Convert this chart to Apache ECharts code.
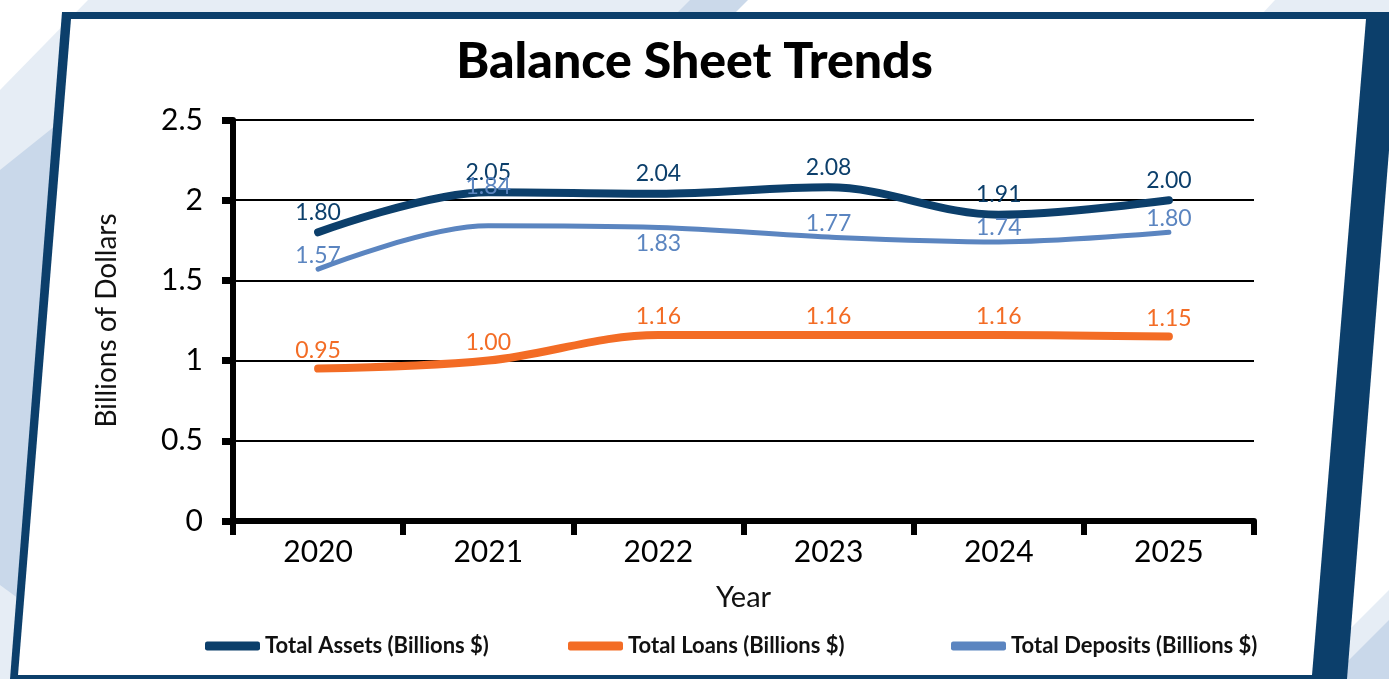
<!DOCTYPE html>
<html>
<head>
<meta charset="utf-8">
<script src="https://cdn.jsdelivr.net/npm/echarts@6/dist/echarts.min.js"></script>
<style>
html, body { margin: 0; padding: 0; background: #fff; }
#main { width: 1389px; height: 679px; }
</style>
</head>
<body>
<div id="main"></div>
<script>
// data
var years = ['2020', '2021', '2022', '2023', '2024', '2025'];
var totalAssets = [1.80, 2.05, 2.04, 2.08, 1.91, 2.00];
var totalLoans = [0.95, 1.00, 1.16, 1.16, 1.16, 1.15];
var totalDeposits = [1.57, 1.84, 1.83, 1.77, 1.74, 1.80];
var yTicks = [0, 0.5, 1, 1.5, 2, 2.5];

var navy = '#0c3f6b';
var orange = '#f36c25';
var steel = '#5b85c0';
var font = 'Lato';

var myChart = echarts.init(document.getElementById('main'));

function lineSeries(name, values, color, width, distance) {
	return {
		name: name,
		type: 'line',
		smooth: 0.35,
		symbol: 'circle',
		symbolSize: 1,
		itemStyle: { color: color },
		lineStyle: { color: color, width: width, cap: 'round' },
		label: {
			show: true,
			position: 'top',
			distance: distance,
			color: color,
			fontFamily: font,
			fontSize: 23,
			formatter: function (p) { return p.value.toFixed(2); }
		},
		data: values.slice()
	};
}

var assetsSeries = lineSeries('Total Assets (Billions $)', totalAssets, navy, 8, 8);
var loansSeries = lineSeries('Total Loans (Billions $)', totalLoans, orange, 8, 6);
var depositsSeries = lineSeries('Total Deposits (Billions $)', totalDeposits, steel, 5, 2);
// deposits labels that sit off the default spot
depositsSeries.data[1] = { value: totalDeposits[1], label: { distance: 27 } };
depositsSeries.data[2] = { value: totalDeposits[2], label: { position: 'bottom', distance: 4 } };

function legendAt(name, left) {
	return {
		data: [name],
		left: left,
		top: 630,
		icon: 'roundRect',
		itemWidth: 55,
		itemHeight: 9,
		textStyle: { fontFamily: font, fontWeight: 'bold', fontSize: 22, color: '#111' }
	};
}

myChart.setOption({
	animation: false,
	backgroundColor: '#ffffff',
	title: {
		text: 'Balance Sheet Trends',
		left: 'center',
		top: 32,
		textStyle: { fontFamily: font, fontWeight: 900, fontSize: 50, color: '#000' }
	},
	graphic: [
		{ type: 'polygon', z: -20, shape: { points: [[88, 0], [700, 0], [0, 700], [0, 90]] }, style: { fill: '#e6edf5' } },
		{ type: 'polygon', z: -19, shape: { points: [[0, 170], [75, 110], [75, 640], [0, 585]] }, style: { fill: '#c9d8ea' } },
		{ type: 'polygon', z: -19, shape: { points: [[690, 0], [748, 0], [736, 12], [678, 12]] }, style: { fill: '#cbd9ea' } },
		{ type: 'polygon', z: -19, shape: { points: [[1275, 0], [1389, 0], [1389, 14], [1262, 14]] }, style: { fill: '#e6edf5' } },
		{ type: 'polygon', z: -19, shape: { points: [[1389, 590], [1389, 679], [1300, 679]] }, style: { fill: '#e6edf5' } },
		{ type: 'polygon', z: -18, shape: { points: [[1389, 620], [1389, 679], [1330, 679]] }, style: { fill: '#c9d8ea' } },
		{ type: 'polygon', z: -17, shape: { points: [[62, 12], [1400, 12], [1347, 679], [10, 679]] }, style: { fill: navy } },
		{ type: 'polygon', z: -16, shape: { points: [[71, 19], [1366, 19], [1312, 675], [18, 675]] }, style: { fill: '#ffffff' } }
	],
	legend: [
		legendAt(assetsSeries.name, 200),
		legendAt(loansSeries.name, 563),
		legendAt(depositsSeries.name, 946)
	],
	grid: { left: 233, right: 135, top: 120, bottom: 158 },
	xAxis: {
		type: 'category',
		data: years,
		name: 'Year',
		nameLocation: 'middle',
		nameGap: 62,
		nameTextStyle: { fontFamily: font, fontSize: 29, color: '#111' },
		axisLine: { lineStyle: { color: '#000', width: 6 } },
		axisTick: { show: true, length: 14, lineStyle: { color: '#000', width: 6 } },
		axisLabel: { fontFamily: font, fontSize: 30, color: '#000', margin: 16 }
	},
	yAxis: {
		type: 'value',
		min: yTicks[0],
		max: yTicks[yTicks.length - 1],
		interval: 0.5,
		name: 'Billions of Dollars',
		nameLocation: 'middle',
		nameGap: 112,
		nameTextStyle: { fontFamily: font, fontSize: 28, color: '#111' },
		axisLine: { show: true, lineStyle: { color: '#000', width: 6 } },
		axisTick: { show: true, length: 11, lineStyle: { color: '#000', width: 7 } },
		axisLabel: { fontFamily: font, fontSize: 30, color: '#000', margin: 30 },
		splitLine: { lineStyle: { color: '#000', width: 2 } }
	},
	series: [assetsSeries, loansSeries, depositsSeries]
});
</script>
</body>
</html>
